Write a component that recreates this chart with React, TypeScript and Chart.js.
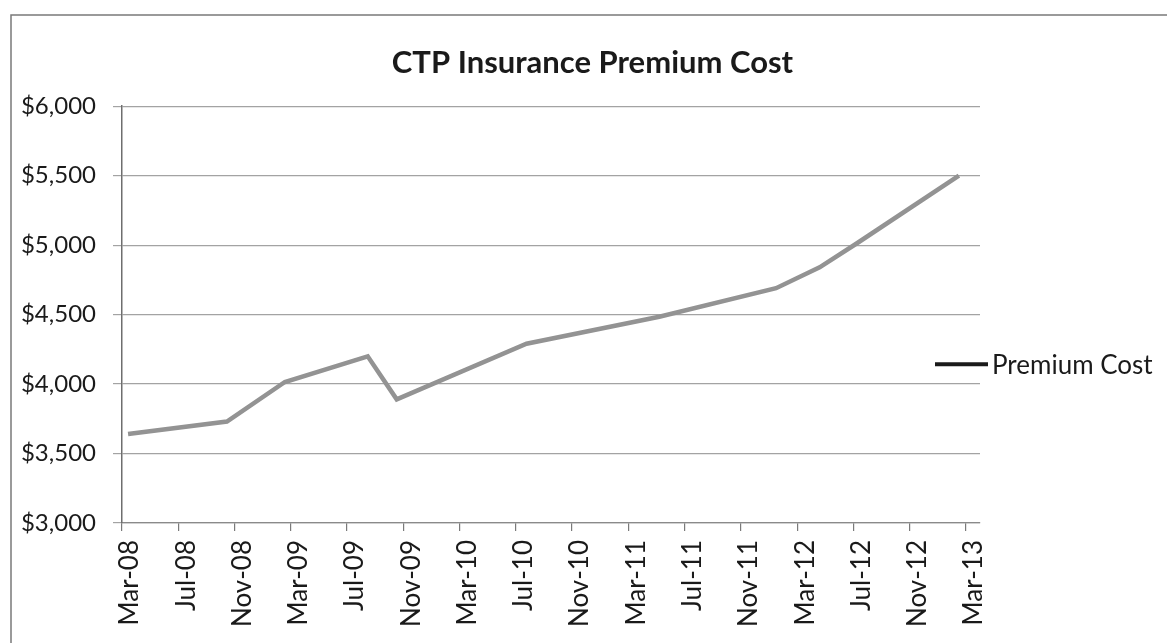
import { useEffect, useRef } from "react";
import { Chart, registerables } from "chart.js";

Chart.register(...registerables);

const chartTitle = "CTP Insurance Premium Cost";
const seriesName = "Premium Cost";
// months elapsed since 1 Mar 2008 for each observed premium change
const monthsSinceMar08 = [0.43, 7.46, 11.58, 17.47, 19.53, 28.76, 38.2, 46.5, 49.6, 52.2, 59.5];
const premiumCost = [3640, 3730, 4015, 4200, 3890, 4290, 4485, 4690, 4840, 5010, 5500];
const xTickLabels = [
  "Mar-08", "Jul-08", "Nov-08", "Mar-09", "Jul-09", "Nov-09", "Mar-10", "Jul-10",
  "Nov-10", "Mar-11", "Jul-11", "Nov-11", "Mar-12", "Jul-12", "Nov-12", "Mar-13",
];
const xTickStepMonths = 4;
const xAxisMaxMonths = 61;
const yMin = 3000;
const yMax = 6000;
const yStep = 500;

const FONT = "Lato, 'Liberation Sans', sans-serif";
const TEXT = "#1a1a1a";

const frameAndLegend = {
  id: "frameAndLegend",
  beforeDraw(chart: any) {
    const { ctx, width, height } = chart;
    ctx.save();
    ctx.fillStyle = "#ffffff";
    ctx.fillRect(0, 0, width, height);
    ctx.strokeStyle = "#7a7a7a";
    ctx.lineWidth = 1.5;
    ctx.beginPath();
    ctx.moveTo(11, height);
    ctx.lineTo(11, 15);
    ctx.lineTo(width, 15);
    ctx.stroke();
    ctx.restore();
  },
  afterDraw(chart: any) {
    const { ctx, chartArea } = chart;
    const label = chart.data.datasets[0].label;
    const y = chartArea.top + 258;
    const x0 = chartArea.right - 45;
    ctx.save();
    ctx.strokeStyle = TEXT;
    ctx.lineWidth = 4;
    ctx.beginPath();
    ctx.moveTo(x0, y);
    ctx.lineTo(x0 + 53, y);
    ctx.stroke();
    ctx.font = `26px ${FONT}`;
    ctx.fillStyle = TEXT;
    ctx.textBaseline = "middle";
    ctx.textAlign = "left";
    ctx.fillText(label, x0 + 57, y + 1);
    ctx.restore();
  },
};

export default function App() {
  const ref = useRef<HTMLCanvasElement | null>(null);

  useEffect(() => {
    if (!ref.current) return;
    const chart = new Chart(ref.current, {
      type: "line",
      data: {
        datasets: [
          {
            label: seriesName,
            data: monthsSinceMar08.map((m, i) => ({ x: m, y: premiumCost[i] })),
            borderColor: "#939393",
            borderWidth: 4.5,
            pointRadius: 0,
            tension: 0,
            fill: false,
          },
        ],
      },
      options: {
        animation: false,
        responsive: false,
        layout: { padding: { left: 18, right: 0, top: 0, bottom: 0 } },
        plugins: {
          legend: { display: false },
          tooltip: { enabled: false },
          title: {
            display: true,
            text: chartTitle,
            color: TEXT,
            font: { family: FONT, size: 31, weight: "bold", lineHeight: 1.2 },
            padding: { top: 44, bottom: 25 },
          },
        },
        scales: {
          x: {
            type: "linear",
            min: 0,
            max: xAxisMaxMonths,
            afterFit: (s: any) => {
              s.height = 120;
            },
            ticks: {
              stepSize: xTickStepMonths,
              includeBounds: false,
              autoSkip: false,
              minRotation: 90,
              maxRotation: 90,
              labelOffset: 8,
              padding: 9,
              color: TEXT,
              font: { family: FONT, size: 26 },
              callback: (v: any) => xTickLabels[Math.round(Number(v) / xTickStepMonths)] ?? "",
            },
            grid: {
              drawOnChartArea: false,
              drawTicks: true,
              tickLength: 8,
              color: "#7a7a7a",
              lineWidth: 1.2,
            },
            border: { display: true, color: "#8a8a8a", width: 1.2 },
          },
          y: {
            type: "linear",
            min: yMin,
            max: yMax,
            afterFit: (s: any) => {
              s.width = 104;
            },
            ticks: {
              stepSize: yStep,
              padding: 17,
              color: TEXT,
              font: { family: FONT, size: 24 },
              callback: (v: any) => "$" + Number(v).toLocaleString("en-US"),
            },
            grid: {
              color: "#a3a3a3",
              lineWidth: 1.2,
              tickLength: 9,
            },
            border: { display: true, color: "#6e6e6e", width: 1.5 },
          },
          legendSpace: {
            type: "linear",
            position: "right",
            display: true,
            afterFit: (s: any) => {
              s.width = 187;
            },
            ticks: { display: false },
            grid: { display: false, drawTicks: false },
            border: { display: false },
          },
        },
      },
      plugins: [frameAndLegend],
    } as any);
    return () => chart.destroy();
  }, []);

  return (
    <div style={{ position: "absolute", left: 0, top: 0, width: 1167, height: 643 }}>
      <canvas ref={ref} width={1167} height={643} />
    </div>
  );
}
